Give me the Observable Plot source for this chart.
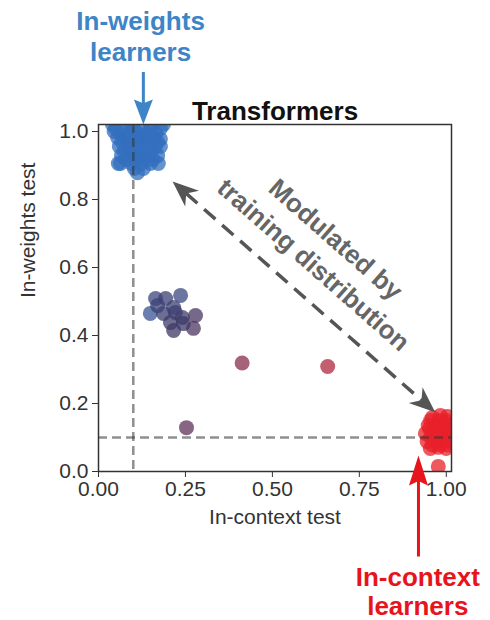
<!DOCTYPE html>
<html>
<head>
<meta charset="utf-8">
<script src="https://cdn.jsdelivr.net/npm/d3@7"></script>
<script src="https://cdn.jsdelivr.net/npm/@observablehq/plot@0.6"></script>
<style>
  html, body { margin: 0; padding: 0; background: #fff; }
</style>
</head>
<body>
<div id="chart"></div>
<script>
// ---------------- data ----------------
// In-weights learners cluster (blue)
const blueX = [0.049,0.075,0.101,0.126,0.152,0.178, 0.055,0.080,0.106,0.132,0.158,0.178,
               0.060,0.086,0.112,0.138,0.164,0.178, 0.066,0.092,0.118,0.144,0.170,
               0.063,0.095,0.124,0.149,0.172, 0.103,0.129,0.112,0.057, 0.040,0.092,0.149,0.187,
               0.062,0.088,0.114,0.139,0.165, 0.068,0.093,0.119,0.145,0.170,
               0.073,0.099,0.125,0.151, 0.079,0.105,0.131,0.157, 0.045];
const blueY = [1.009,1.009,1.009,1.009,1.009,1.009, 0.982,0.982,0.982,0.982,0.982,0.978,
               0.956,0.956,0.956,0.956,0.956,0.956, 0.929,0.929,0.929,0.929,0.929,
               0.906,0.906,0.906,0.906,0.906, 0.891,0.891,0.879,0.906, 1.021,1.021,1.021,1.021,
               0.995,0.995,0.995,0.995,0.995, 0.969,0.969,0.969,0.969,0.969,
               0.942,0.942,0.942,0.942, 0.918,0.918,0.918,0.918, 1.000];
// Intermediate runs (purple)
const midX = [0.164,0.193,0.236,0.149,0.187,0.221,0.241,0.279,0.207,0.273,0.216,0.244,0.170,0.216];
const midY = [0.509,0.509,0.518,0.465,0.465,0.468,0.453,0.459,0.438,0.421,0.415,0.435,0.488,0.482];
const midMix = [0.30,0.34,0.28,0.20,0.36,0.36,0.38,0.44,0.38,0.46,0.40,0.40,0.33,0.35];
// Isolated runs
const soloX = [0.253,0.413,0.659];
const soloY = [0.129,0.319,0.309];
const soloMix = [0.52,0.66,0.80];
// In-context learners cluster (red)
const redX = [0.960,0.983,1.003, 0.948,0.971,0.994,1.011, 0.940,0.963,0.986,1.009,
              0.945,0.968,0.991,1.011, 0.954,0.977,1.000, 0.977,
              0.955,0.978,1.000, 0.952,0.975,0.998, 0.955,0.978,1.000, 0.960,0.983,1.005];
const redY = [0.159,0.165,0.162, 0.135,0.138,0.141,0.138, 0.112,0.115,0.118,0.115,
              0.088,0.091,0.091,0.088, 0.068,0.071,0.068, 0.015,
              0.150,0.150,0.150, 0.126,0.126,0.126, 0.100,0.100,0.100, 0.078,0.078,0.078];

const xTicks = [0, 0.25, 0.5, 0.75, 1.0];
const yTicks = [0, 0.2, 0.4, 0.6, 0.8, 1.0];
const thresholds = [0.1];

// Annotation anchors (data coordinates)
const diagArrow = {x1: 0.213, y1: 0.853, x2: 0.968, y2: 0.174};
const topArrow = {x1: 0.129, y1: 1.175, x2: 0.129, y2: 1.0206};
const bottomArrow = {x1: 0.920, y1: -0.250, x2: 0.920, y2: 0.047};
const topLabel = {x: 0.121, y: 1.282, text: "In-weights\nlearners"};
const bottomLabel = {x: 0.918, y: -0.352, text: "In-context\nlearners"};
const midLabel = {x: 0.654, y: 0.650, text: "Modulated by\ntraining distribution"};

// ---------------- build table ----------------
const points = [
  ...blueX.map((x, i) => ({x, y: blueY[i], t: 0})),
  ...midX.map((x, i) => ({x, y: midY[i], t: midMix[i]})),
  ...soloX.map((x, i) => ({x, y: soloY[i], t: soloMix[i]})),
  ...redX.map((x, i) => ({x, y: redY[i], t: 1}))
];

// ---------------- layout ----------------
const W = 490, H = 620, ML = 98, MR = 39, MT = 124, MB = 149;
const xDomain = [0, 1.015], yDomain = [0, 1.0206];
const px = (x) => ML + (x - xDomain[0]) / (xDomain[1] - xDomain[0]) * (W - ML - MR);
const py = (y) => H - MB - (y - yDomain[0]) / (yDomain[1] - yDomain[0]) * (H - MT - MB);

function headSymbol(angleDeg, len, wid, notch) {
  const a = angleDeg * Math.PI / 180;
  const dx = Math.cos(a), dy = Math.sin(a), nx = -dy, ny = dx;
  return {
    draw(ctx) {
      ctx.moveTo(0, 0);
      ctx.lineTo(-len * dx + wid / 2 * nx, -len * dy + wid / 2 * ny);
      ctx.lineTo(-len * (1 - notch) * dx, -len * (1 - notch) * dy);
      ctx.lineTo(-len * dx - wid / 2 * nx, -len * dy - wid / 2 * ny);
      ctx.closePath();
    }
  };
}
function angleOf(a) {
  return Math.atan2(py(a.y2) - py(a.y1), px(a.x2) - px(a.x1)) * 180 / Math.PI;
}
function shaft(a, inset1, inset2) {
  const L = Math.hypot(px(a.x2) - px(a.x1), py(a.y2) - py(a.y1));
  const f1 = inset1 / L, f2 = inset2 / L;
  return [{
    x1: a.x1 + (a.x2 - a.x1) * f1, y1: a.y1 + (a.y2 - a.y1) * f1,
    x2: a.x2 - (a.x2 - a.x1) * f2, y2: a.y2 - (a.y2 - a.y1) * f2
  }];
}

const diagAng = angleOf(diagArrow);
const gray = "#555555";
const blue = "#3d85c6";
const red = "#e8141c";
const ruleStyle = {stroke: "#333333", strokeOpacity: 0.55, strokeWidth: 2.5, strokeDasharray: "9,5"};

const plot = Plot.plot({
  width: W, height: H,
  marginLeft: ML, marginRight: MR, marginTop: MT, marginBottom: MB,
  style: {fontFamily: "'Liberation Sans', Arial, sans-serif", fontSize: "21px", color: "#333", background: "white"},
  x: {domain: xDomain, label: null},
  y: {domain: yDomain, label: null},
  color: {type: "linear", domain: [0, 0.4, 1], range: ["#336fbe", "#3d3866", "#e8202a"], interpolate: "rgb"},
  marks: [
    Plot.dot(points, {x: "x", y: "y", r: 7.5, fill: "t", fillOpacity: 0.75, stroke: "none", clip: true}),
    Plot.ruleX(thresholds, ruleStyle),
    Plot.ruleY(thresholds, ruleStyle),
    Plot.frame({stroke: "#333", strokeWidth: 1.5}),
    Plot.axisX({ticks: xTicks, tickFormat: d3.format(".2f"), tickSize: 6, tickPadding: 4, fontSize: 21, label: null}),
    Plot.axisY({ticks: yTicks, tickFormat: d3.format(".1f"), tickSize: 6, tickPadding: 4, fontSize: 21, label: null}),
    Plot.text(["In-context test"], {text: d => d, frameAnchor: "bottom", dy: 52, fontSize: 21, fill: "#333"}),
    Plot.text(["In-weights test"], {text: d => d, frameAnchor: "left", dx: -70, rotate: -90, fontSize: 21, fill: "#333"}),
    Plot.text(["Transformers"], {text: d => d, frameAnchor: "top", dy: -23, fontSize: 26, fontWeight: "bold", fill: "#111"}),
    // diagonal double arrow
    Plot.link(shaft(diagArrow, 18, 18), {x1: "x1", y1: "y1", x2: "x2", y2: "y2", stroke: gray, strokeWidth: 3.5, strokeDasharray: "15,9"}),
    Plot.dot([diagArrow], {x: "x2", y: "y2", symbol: headSymbol(diagAng, 26, 21, 0.3), fill: gray, stroke: "none"}),
    Plot.dot([diagArrow], {x: "x1", y: "y1", symbol: headSymbol(diagAng + 180, 26, 21, 0.3), fill: gray, stroke: "none"}),
    Plot.text([midLabel], {x: "x", y: "y", text: "text", rotate: diagAng, fontSize: 26, fontWeight: "bold", fill: "#666", lineHeight: 1.3}),
    // in-weights annotation
    Plot.link(shaft(topArrow, 0, 18), {x1: "x1", y1: "y1", x2: "x2", y2: "y2", stroke: blue, strokeWidth: 3}),
    Plot.dot([topArrow], {x: "x2", y: "y2", symbol: headSymbol(90, 25, 19, 0.15), fill: blue, stroke: "none"}),
    Plot.text([topLabel], {x: "x", y: "y", text: "text", fontSize: 26, fontWeight: "bold", fill: blue, lineHeight: 1.19}),
    // in-context annotation
    Plot.link(shaft(bottomArrow, 0, 22), {x1: "x1", y1: "y1", x2: "x2", y2: "y2", stroke: red, strokeWidth: 3}),
    Plot.dot([bottomArrow], {x: "x2", y: "y2", symbol: headSymbol(-90, 30, 19, 0.15), fill: red, stroke: "none"}),
    Plot.text([bottomLabel], {x: "x", y: "y", text: "text", fontSize: 26, fontWeight: "bold", fill: red, lineHeight: 1.12})
  ]
});
document.getElementById("chart").appendChild(plot);
</script>
</body>
</html>
